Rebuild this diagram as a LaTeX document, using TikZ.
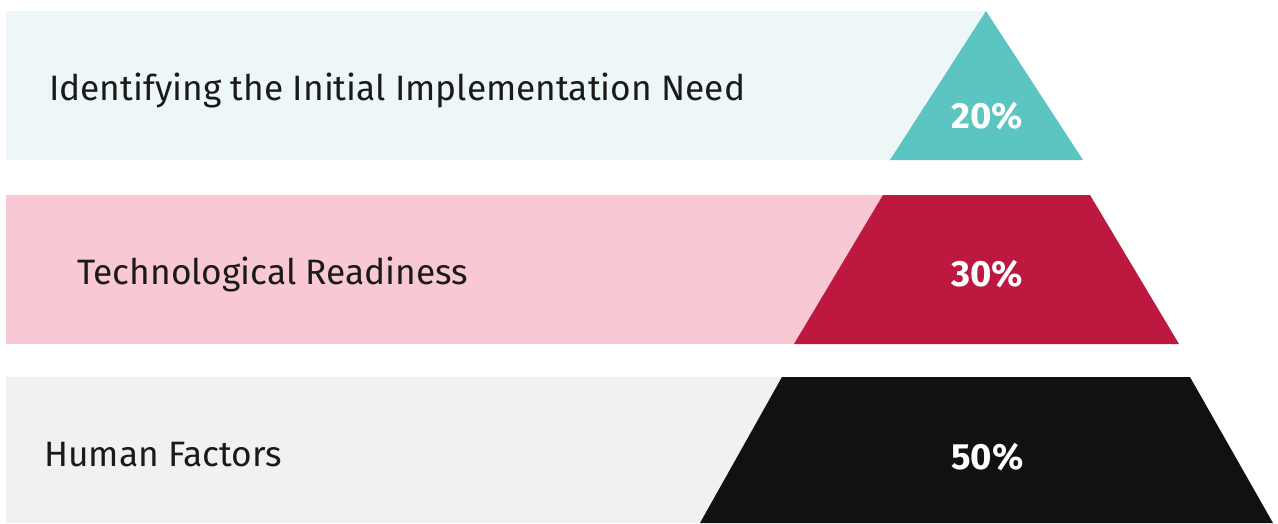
\documentclass[tikz,border=0pt]{standalone}
\usepackage{fontspec}
\setmainfont{Fira Sans}
\usepackage{tikz}

\definecolor{bandA}{HTML}{EEF7F8}
\definecolor{bandB}{HTML}{F8C9D5}
\definecolor{bandC}{HTML}{F1F1F1}
\definecolor{tealA}{HTML}{5CC5C1}
\definecolor{crimB}{HTML}{BC1840}
\definecolor{inkC}{HTML}{111111}
\definecolor{labelink}{HTML}{1A1A1A}

\tikzset{
  bandlabel/.style={anchor=base west, inner sep=0pt, text=labelink,
    font=\fontsize{35.3}{40}\selectfont},
  share/.style={anchor=base, inner sep=0pt, text=white,
    font=\fontsize{36.5}{40}\selectfont\bfseries}
}

\begin{document}
\begin{tikzpicture}[x=1pt,y=-1pt]
  \useasboundingbox (0,0) rectangle (1278,523);

  % Define the middle axis of the pyramid
  \def\mid{986}

  % Light bands behind the pyramid
  \fill[bandA] (6,11) rectangle (\mid,160);
  \fill[bandB] (6,195) rectangle (\mid,344);
  \fill[bandC] (6,377) rectangle (\mid,523);

  % Pyramid slices
  \fill[tealA] (\mid,11) -- (1083,160) -- (890,160) -- cycle;
  \fill[crimB] (883,195) -- (1090,195) -- (1179,344) -- (794,344) -- cycle;
  \fill[inkC] (782,377) -- (1190,377) -- (1273,523) -- (700,523) -- cycle;

  % Band labels
  \node[bandlabel] (need) at (49,100) {Identifying the Initial Implementation Need};
  \node[bandlabel] (tech) at (77,284) {Technological Readiness};
  \node[bandlabel] (human) at (44,466) {Human Factors};

  % Shares on the slices
  \node[share] (p20) at (987.5,128) {20\%};
  \node[share] (p30) at (987.5,286) {30\%};
  \node[share] (p50) at (987.5,469) {50\%};

\end{tikzpicture}
\end{document}
